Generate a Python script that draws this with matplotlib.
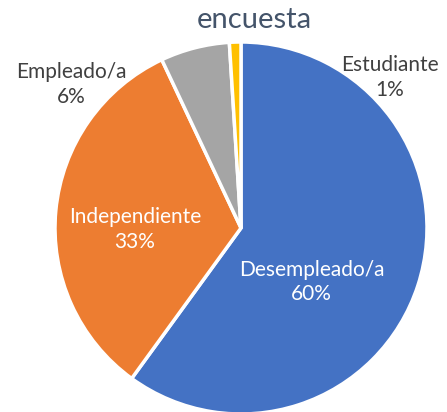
import matplotlib
matplotlib.use("Agg")
import matplotlib.pyplot as plt

categories = ["Desempleado/a", "Independiente", "Empleado/a", "Estudiante"]
values = [60, 33, 6, 1]
colors = ["#4472C4", "#ED7D31", "#A5A5A5", "#FFC000"]
title = "encuesta"

plt.rcParams['font.family'] = ['Lato', 'DejaVu Sans']

fig = plt.figure(figsize=(4.47, 4.12), dpi=100)
cx, cy, r = 241, 228, 186
W, H = 447, 412
ax = fig.add_axes([(cx - r) / W, (H - cy - r) / H, 2 * r / W, 2 * r / H])
ax.pie(values, colors=colors, startangle=90, counterclock=False, radius=1,
       wedgeprops=dict(edgecolor="white", linewidth=2.5))
ax.set_xlim(-1, 1)
ax.set_ylim(-1, 1)
ax.set_aspect("equal")
ax.axis("off")

total = sum(values)
pcts = [f"{round(v / total * 100)}%" for v in values]
label_pos = [(0.38, -0.29), (-0.57, -0.01), (-0.91, 0.77), (0.80, 0.81)]
label_col = ["white", "white", "#404040", "#404040"]
for cat, p, (x, y), c in zip(categories, pcts, label_pos, label_col):
    ax.text(x, y, f"{cat}\n{p}", ha="center", va="center", color=c,
            fontsize=15, linespacing=1.3)

fig.text(254 / W, 1 - 20 / H, title, ha="center", va="center",
         color="#44546A", fontsize=21)

fig.savefig("out.png", dpi=100)
